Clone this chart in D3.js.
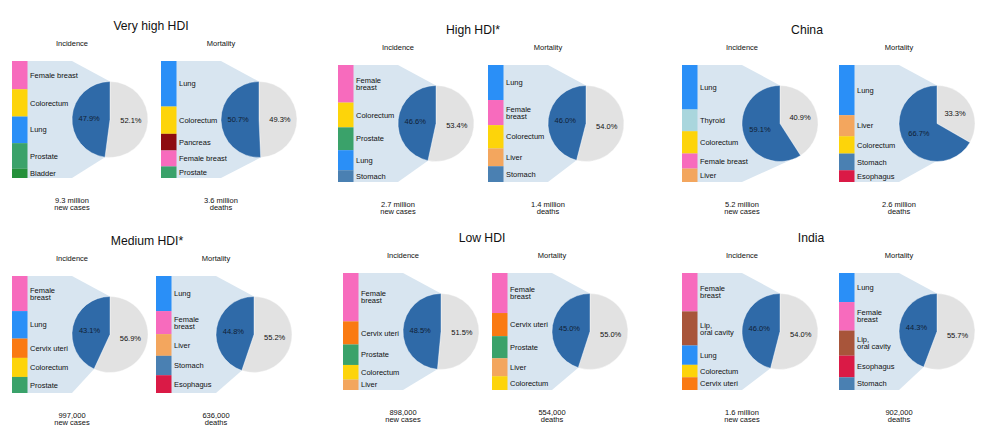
<!DOCTYPE html>
<meta charset="utf-8">
<script src="https://d3js.org/d3.v7.min.js"></script>
<style>
  body { margin: 0; background: #fff; }
  text { font-family: "Liberation Sans", Arial, sans-serif; fill: #111; }
</style>
<div id="my_dataviz"></div>
<script>

// ---- data ----
var panelTitles = ["Very high HDI", "High HDI*", "China", "Medium HDI*", "Low HDI", "India"];

// incidence: top 5 sites and their share of all new cases (%)
var incSites = [
  ["Female breast", "Colorectum", "Lung", "Prostate", "Bladder"],
  ["Female\nbreast", "Colorectum", "Prostate", "Lung", "Stomach"],
  ["Lung", "Thyroid", "Colorectum", "Female breast", "Liver"],
  ["Female\nbreast", "Lung", "Cervix uteri", "Colorectum", "Prostate"],
  ["Female\nbreast", "Cervix uteri", "Prostate", "Colorectum", "Liver"],
  ["Female\nbreast", "Lip,\noral cavity", "Lung", "Colorectum", "Cervix uteri"]
];
var incShares = [
  [11.6, 11.2, 10.9, 10.5, 3.8],
  [15.0, 9.9, 9.1, 8.0, 4.7],
  [22.5, 11.0, 11.3, 7.6, 6.8],
  [12.9, 10.1, 7.1, 7.0, 5.9],
  [20.1, 9.6, 8.5, 6.1, 4.3],
  [15.1, 13.4, 7.6, 4.9, 5.0]
];
var incTop5 = [47.9, 46.6, 59.1, 43.1, 48.5, 46.0];
var incTotals = ["9.3 million", "2.7 million", "5.2 million", "997,000", "898,000", "1.6 million"];

// mortality: top 5 sites and their share of all deaths (%)
var mortSites = [
  ["Lung", "Colorectum", "Pancreas", "Female breast", "Prostate"],
  ["Lung", "Female\nbreast", "Colorectum", "Liver", "Stomach"],
  ["Lung", "Liver", "Colorectum", "Stomach", "Esophagus"],
  ["Lung", "Female\nbreast", "Liver", "Stomach", "Esophagus"],
  ["Female\nbreast", "Cervix uteri", "Prostate", "Liver", "Colorectum"],
  ["Lung", "Female\nbreast", "Lip,\noral cavity", "Esophagus", "Stomach"]
];
var mortShares = [
  [19.7, 11.8, 7.2, 6.9, 5.0],
  [13.8, 9.9, 9.2, 7.0, 6.2],
  [28.6, 12.0, 9.9, 9.5, 6.7],
  [13.4, 8.8, 8.3, 7.4, 6.8],
  [15.4, 8.9, 8.5, 6.9, 5.3],
  [11.0, 10.8, 9.5, 8.2, 4.8]
];
var mortTop5 = [50.7, 46.0, 66.7, 44.8, 45.0, 44.3];
var mortTotals = ["3.6 million", "1.4 million", "2.6 million", "636,000", "554,000", "902,000"];

var siteColors = {
  "Female breast": "#f76bbd",
  "Colorectum": "#fdd40a",
  "Lung": "#2a8ff7",
  "Prostate": "#3aa26a",
  "Bladder": "#24903a",
  "Pancreas": "#8e0c10",
  "Liver": "#f3a65e",
  "Stomach": "#4a80b2",
  "Thyroid": "#a9d6dd",
  "Esophagus": "#da1a46",
  "Cervix uteri": "#fa7a12",
  "Lip, oral cavity": "#a8553a"
};

// ---- layout ----
var width = 1000, height = 438;
var panelX = [12, 338, 682, 12, 343, 682];     // incidence bar left
var mortDx = [149, 150, 157, 144, 149, 157];   // mortality bar offset
var panelY = [61, 65, 65, 276, 273, 273];      // bar top
var titleX = [151, 473, 807, 147, 482, 811];

var barW = 15.5, barH = 117, r = 38;
var pieDx = 98, pieDy = barH / 2;

var svg = d3.select("#my_dataviz")
  .append("svg")
    .attr("width", width)
    .attr("height", height);

var pie = d3.pie().sort(null).value(function(d) { return d; });
var arc = d3.arc().innerRadius(0).outerRadius(r);
var labelArc = d3.arc().innerRadius(r * 0.55).outerRadius(r * 0.55);

function drawBlock(g, bx, top, sites, shares, top5, sub, total, totalWord) {
  var total5 = d3.sum(shares);
  var y = d3.scaleLinear().domain([0, total5]).range([top, top + barH]);
  var cx = bx + pieDx, cy = top + pieDy;

  // end of the blue slice (start is 12 o'clock)
  var a = (100 - top5) / 100 * 2 * Math.PI;
  var bxEnd = cx + r * Math.sin(a), byEnd = cy - r * Math.cos(a);

  // light blue connector
  g.append("path")
    .attr("d", d3.line()([
      [bx, top], [cx - r, top], [cx, cy - r], [bxEnd, byEnd],
      [cx - r, top + barH], [bx, top + barH]
    ]) + "Z")
    .style("fill", "#d8e5f0");

  // stacked bar
  var acc = 0;
  var segs = shares.map(function(v, i) {
    var s = { name: sites[i], v0: acc, v1: acc + v };
    acc += v;
    return s;
  });

  g.selectAll(null)
    .data(segs)
    .enter()
    .append("rect")
      .attr("x", bx)
      .attr("y", function(d) { return y(d.v0); })
      .attr("width", barW)
      .attr("height", function(d) { return y(d.v1) - y(d.v0); })
      .style("fill", function(d) { return siteColors[d.name.replace("\n", " ")]; });

  var lab = g.selectAll(null)
    .data(segs)
    .enter()
    .append("text")
      .attr("x", bx + barW + 2.5)
      .attr("y", function(d) { return (y(d.v0) + y(d.v1)) / 2; })
      .style("font-size", "7.5px");
  lab.each(function(d) {
    var lines = d.name.split("\n");
    var t = d3.select(this);
    lines.forEach(function(l, k) {
      t.append("tspan")
        .attr("x", bx + barW + 2.5)
        .attr("dy", k === 0 ? ((-(lines.length - 1) * 7 / 2) + 2.6) + "px" : "7px")
        .text(l);
    });
  });

  // pie: others (grey) then top 5 (blue)
  var arcs = pie([100 - top5, top5]);
  var pg = g.append("g").attr("transform", "translate(" + cx + "," + cy + ")");
  pg.selectAll(null)
    .data(arcs)
    .enter()
    .append("path")
      .attr("d", arc)
      .style("fill", function(d, i) { return i === 0 ? "#e2e2e2" : "#2f6aa8"; })
      .style("stroke", "#fff")
      .style("stroke-width", 0.4);
  pg.selectAll(null)
    .data(arcs)
    .enter()
    .append("text")
      .attr("transform", function(d) { return "translate(" + labelArc.centroid(d) + ")"; })
      .attr("text-anchor", "middle")
      .attr("dominant-baseline", "central")
      .style("font-size", "7.5px")
      .style("fill", function(d, i) { return i === 0 ? "#111" : "#0f1e33"; })
      .text(function(d, i) { return (i === 0 ? 100 - top5 : top5).toFixed(1) + "%"; });

  // sub title and totals
  g.append("text")
    .attr("x", bx + 60).attr("y", top - 18)
    .attr("text-anchor", "middle").attr("dominant-baseline", "central")
    .style("font-size", "7.5px")
    .text(sub);
  g.append("text")
    .attr("x", bx + 60).attr("y", top + 139)
    .attr("text-anchor", "middle").attr("dominant-baseline", "central")
    .style("font-size", "7.5px")
    .text(total);
  g.append("text")
    .attr("x", bx + 60).attr("y", top + 146.5)
    .attr("text-anchor", "middle").attr("dominant-baseline", "central")
    .style("font-size", "7.5px")
    .text(totalWord);
}

panelTitles.forEach(function(title, p) {
  var g = svg.append("g");
  g.append("text")
    .attr("x", titleX[p]).attr("y", panelY[p] - 35.5)
    .attr("text-anchor", "middle").attr("dominant-baseline", "central")
    .style("font-size", "12.2px")
    .text(title);

  drawBlock(g, panelX[p], panelY[p], incSites[p], incShares[p], incTop5[p],
    "Incidence", incTotals[p], "new cases");
  drawBlock(g, panelX[p] + mortDx[p], panelY[p], mortSites[p], mortShares[p], mortTop5[p],
    "Mortality", mortTotals[p], "deaths");
});

</script>
